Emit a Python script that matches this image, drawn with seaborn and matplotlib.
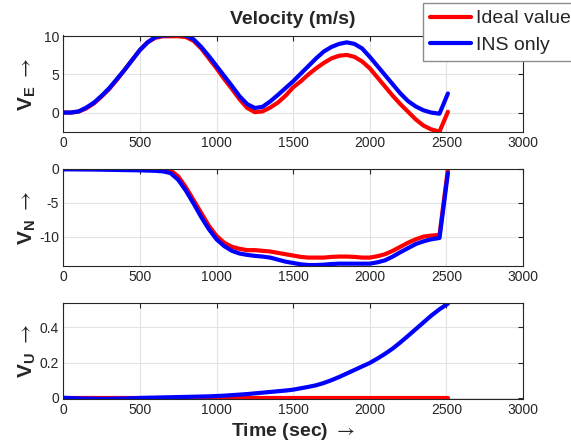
import pandas as pd
import seaborn as sns
import matplotlib.pyplot as plt
import matplotlib.ticker as mticker

# time axis (s)
time = [0, 50, 100, 150, 200, 250, 300, 350, 400, 450, 500, 550, 600, 650, 700, 750,
        800, 850, 900, 950, 1000, 1050, 1100, 1150, 1200, 1250, 1300, 1350, 1400, 1450,
        1500, 1550, 1600, 1650, 1700, 1750, 1800, 1850, 1900, 1950, 2000, 2050, 2100,
        2150, 2200, 2250, 2300, 2350, 2400, 2455, 2510]

# east velocity
ve_ideal = [0.0, 0.0, 0.12, 0.55, 1.2, 2.1, 3.1, 4.3, 5.6, 6.9, 8.2, 9.2, 9.8, 10.0, 10.0, 10.0,
            9.9, 9.4, 8.4, 7.1, 5.8, 4.4, 3.1, 1.75, 0.6, 0.05, 0.15, 0.65, 1.3, 2.2,
            3.3, 4.1, 5.0, 5.8, 6.5, 7.1, 7.45, 7.55, 7.3, 6.7, 5.8, 4.6, 3.4,
            2.2, 1.1, 0.1, -0.9, -1.7, -2.2, -2.5, 0.1]
ve_ins = [0.0, 0.0, 0.15, 0.65, 1.3, 2.2, 3.2, 4.4, 5.6, 6.9, 8.2, 9.2, 9.9, 10.1, 10.15, 10.2,
          10.1, 9.6, 8.6, 7.4, 6.1, 4.8, 3.5, 2.15, 1.1, 0.6, 0.75, 1.45, 2.3, 3.2,
          4.1, 5.1, 6.1, 7.1, 8.0, 8.6, 9.0, 9.2, 9.0, 8.4, 7.3, 6.1, 4.9,
          3.7, 2.5, 1.5, 0.8, 0.3, 0.0, -0.15, 2.5]

# north velocity
vn_ideal = [0.0, 0.0, 0.0, 0.0, 0.0, 0.0, 0.0, 0.0, 0.0, 0.0, 0.0, 0.0, 0.0, -0.02, -0.2, -1.1,
            -2.7, -4.6, -6.5, -8.4, -9.9, -10.9, -11.5, -11.8, -12.0, -12.0, -12.1, -12.2, -12.4, -12.6,
            -12.8, -13.0, -13.1, -13.1, -13.1, -13.0, -12.95, -12.95, -13.0, -13.1, -13.1, -12.9, -12.6,
            -12.1, -11.5, -10.9, -10.4, -10.0, -9.85, -9.75, 0.0]
vn_ins = [-0.05, -0.05, -0.06, -0.07, -0.08, -0.1, -0.12, -0.14, -0.16, -0.18, -0.2, -0.23, -0.27, -0.35, -0.6, -1.6,
          -3.2, -5.1, -7.1, -8.9, -10.4, -11.4, -12.1, -12.5, -12.7, -12.85, -12.95, -13.1, -13.4, -13.7,
          -13.9, -14.1, -14.2, -14.2, -14.15, -14.05, -14.0, -14.0, -14.0, -14.0, -14.0, -13.8, -13.5,
          -12.95, -12.3, -11.7, -11.1, -10.7, -10.4, -10.2, -0.6]

# up velocity
vu_ideal_time = [0, 2510]
vu_ideal = [0.0, 0.0]
vu_ins = [0.0, -0.002, -0.004, -0.005, -0.006, -0.006, -0.006, -0.005, -0.004, -0.003, -0.001, 0.0, 0.001, 0.002, 0.003, 0.004,
          0.005, 0.006, 0.007, 0.008, 0.01, 0.012, 0.015, 0.018, 0.021, 0.025, 0.029, 0.033, 0.037, 0.041,
          0.046, 0.054, 0.062, 0.071, 0.084, 0.1, 0.118, 0.138, 0.158, 0.178, 0.198, 0.223, 0.25,
          0.28, 0.315, 0.352, 0.39, 0.428, 0.466, 0.503, 0.535]

sns.set_theme(style="white")
plt.rcParams['font.family'] = ['Liberation Sans', 'DejaVu Sans']
plt.rcParams['mathtext.fontset'] = 'custom'
plt.rcParams['mathtext.rm'] = 'Liberation Sans'
plt.rcParams['mathtext.bf'] = 'Liberation Sans:bold'
plt.rcParams['mathtext.it'] = 'Liberation Sans:italic'
plt.rcParams['mathtext.sf'] = 'STIXGeneral'
plt.rcParams['axes.unicode_minus'] = False

fig, axes = plt.subplots(3, 1, figsize=(5.71, 4.46), dpi=100)
left, width = 63.3 / 571, (523 - 63.3) / 571
boxes = [(35.5, 132), (169, 265.7), (303.3, 399)]
for ax, (top, bot) in zip(axes, boxes):
    ax.set_position([left, 1 - bot / 446, width, (bot - top) / 446])

arrow = r'$\mathsf{\rightarrow}$'
panels = [
    (time, ve_ideal, time, ve_ins, r'$\mathbf{V_E}$ ' + arrow, (-2.55, 10.1), [0, 5, 10]),
    (time, vn_ideal, time, vn_ins, r'$\mathbf{V_N}$ ' + arrow, (-14.3, 0.0), [-10, -5, 0]),
    (vu_ideal_time, vu_ideal, time, vu_ins, r'$\mathbf{V_U}$ ' + arrow, (-0.007, 0.537), [0, 0.2, 0.4]),
]

for ax, (t_id, y_id, t_ins, y_ins, ylab, ylim, yticks) in zip(axes, panels):
    sns.lineplot(x=t_id, y=y_id, ax=ax, color='#ff0000', linewidth=3, sort=False, label='Ideal value')
    sns.lineplot(x=t_ins, y=y_ins, ax=ax, color='#0000ff', linewidth=3, sort=False, label='INS only')
    ax.set_xlim(0, 3000)
    ax.set_ylim(*ylim)
    ax.set_xticks([0, 500, 1000, 1500, 2000, 2500, 3000])
    ax.set_yticks(yticks)
    ax.yaxis.set_major_formatter(mticker.FormatStrFormatter('%g'))
    ax.grid(True, color='#e3e3e3', linewidth=0.8)
    ax.set_axisbelow(True)
    ax.tick_params(direction='in', length=3.5, width=0.8, top=True, right=True,
                   labelsize=10, colors='#262626', pad=3)
    for s in ax.spines.values():
        s.set_color('#262626')
        s.set_linewidth(0.8)
    ax.set_ylabel(ylab, fontsize=15, color='#262626')
    ax.yaxis.set_label_coords(-0.055, 0.5)
    ax.legend().remove()

axes[0].set_title('Velocity (m/s)', fontsize=14, fontweight='bold', pad=8)
axes[2].set_xlabel('Time (sec) ' + arrow, fontsize=14, fontweight='bold', color='#262626', labelpad=3)

handles, labels = axes[0].get_legend_handles_labels()
fig.legend(handles, labels, loc='upper left', bbox_to_anchor=(423 / 571, 1 - 3 / 446),
           borderaxespad=0, fontsize=14, frameon=True, fancybox=False, framealpha=1,
           edgecolor='#8c8c8c', handlelength=2.1, handletextpad=0.3, labelspacing=0.45,
           borderpad=0.35)

fig.savefig('out.png', dpi=100)
